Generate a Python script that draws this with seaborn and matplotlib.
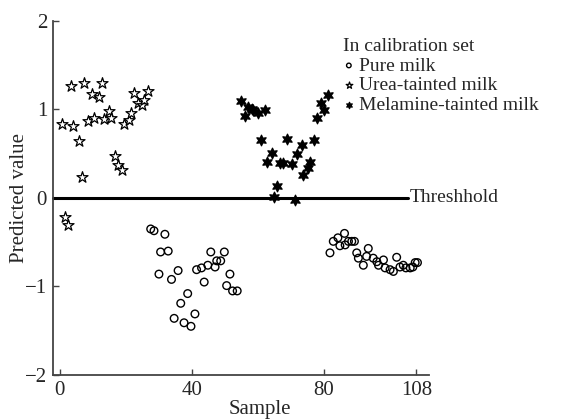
import numpy as np
import pandas as pd
import matplotlib
matplotlib.use("Agg")
import matplotlib.pyplot as plt
import seaborn as sns

# --------------------------
# Data
# --------------------------

pure_x = [27.5, 28.5, 31.8, 30.5, 32.8, 30.0, 33.8, 35.8, 38.7, 36.6, 34.6, 37.6, 39.7, 40.9,
          41.4, 42.9, 44.8, 47.0, 47.5, 48.7, 45.7, 49.8, 43.7, 51.5, 50.5, 52.3, 53.7,
          81.8, 82.8, 84.2, 86.2, 84.8, 86.4, 87.4, 88.4, 89.2, 89.9, 90.4, 91.9, 92.9, 93.4,
          94.9, 96.0, 96.5, 98.0, 98.5, 100.0, 101.0, 102.0, 103.0, 104.0, 104.8, 106.1,
          106.9, 107.6, 108.3]
pure_y = [-0.35, -0.37, -0.41, -0.61, -0.60, -0.86, -0.92, -0.82, -1.08, -1.19, -1.36, -1.41,
          -1.45, -1.31, -0.81, -0.79, -0.76, -0.78, -0.71, -0.71, -0.61, -0.61, -0.95, -0.86,
          -0.99, -1.05, -1.05,
          -0.62, -0.49, -0.45, -0.40, -0.54, -0.53, -0.49, -0.49, -0.49, -0.62, -0.68, -0.76,
          -0.66, -0.57, -0.68, -0.72, -0.76, -0.70, -0.79, -0.81, -0.83, -0.67, -0.78, -0.76,
          -0.79, -0.79, -0.78, -0.73, -0.73]

urea_x = [0.5, 4.0, 3.5, 7.4, 12.8, 9.6, 11.8, 5.8, 6.6, 8.4, 10.4, 13.4, 14.9, 15.5,
          16.7, 17.7, 18.9, 19.4, 20.9, 21.5, 22.5, 23.7, 24.8, 25.5, 26.8, 1.5, 2.5]
urea_y = [0.84, 0.81, 1.27, 1.30, 1.30, 1.18, 1.14, 0.64, 0.24, 0.87, 0.90, 0.89, 0.98, 0.90,
          0.47, 0.37, 0.32, 0.84, 0.88, 0.96, 1.19, 1.07, 1.05, 1.11, 1.21, -0.21, -0.31]

melamine_x = [54.8, 56.1, 57.1, 58.1, 58.6, 59.9, 62.1, 60.8, 68.7, 64.2, 62.8, 66.7, 67.7,
              70.2, 73.2, 71.9, 75.8, 75.2, 73.7, 77.1, 65.8, 64.8, 71.2, 77.8, 80.0, 79.0, 81.1]
melamine_y = [1.09, 0.93, 1.03, 1.00, 0.99, 0.96, 0.99, 0.66, 0.67, 0.51, 0.41, 0.39, 0.39,
              0.38, 0.60, 0.50, 0.41, 0.34, 0.26, 0.65, 0.13, 0.01, -0.02, 0.90, 0.99, 1.07, 1.16]

threshold = 0
x_ticks = [0, 40, 80, 108]
y_ticks = [-2, -1, 0, 1, 2]

# --------------------------
# Build the table
# --------------------------

df = pd.concat([
    pd.DataFrame({"Sample": pure_x, "Predicted": pure_y, "Group": "Pure milk"}),
    pd.DataFrame({"Sample": urea_x, "Predicted": urea_y, "Group": "Urea-tainted milk"}),
    pd.DataFrame({"Sample": melamine_x, "Predicted": melamine_y, "Group": "Melamine-tainted milk"}),
], ignore_index=True)

# --------------------------
# Plot
# --------------------------

sns.set_style("ticks")
plt.rcParams["font.family"] = ["Liberation Serif", "DejaVu Serif"]
plt.rcParams["axes.unicode_minus"] = True

fig = plt.figure(figsize=(5.66, 4.19), dpi=100)
ax = fig.add_axes([0.093, 0.105, 0.665, 0.845])

styles = {
    "Pure milk": dict(marker="o", s=30, facecolor="none", edgecolor="black", linewidth=1.0),
    "Urea-tainted milk": dict(marker="*", s=70, facecolor="white", edgecolor="black", linewidth=0.9),
    "Melamine-tainted milk": dict(marker=(6, 1, 0), s=60, facecolor="black", edgecolor="black", linewidth=0.9),
}
for name, kw in styles.items():
    sns.scatterplot(data=df[df["Group"] == name], x="Sample", y="Predicted",
                    ax=ax, label=name, zorder=3, **kw)

ax.axhline(threshold, xmin=0, xmax=0.944, color="black", linewidth=2.2, clip_on=False, zorder=2)
ax.text(105.8, threshold, "Threshhold", fontsize=14, va="center", ha="left")

ax.set_xlim(-2.2, 111.8)
ax.set_ylim(-2, 2)
ax.set_xticks(x_ticks)
ax.set_yticks(y_ticks)
ax.tick_params(direction="in", length=4, width=1, labelsize=15, color="#444444")
ax.tick_params(axis="x", pad=4)
ax.tick_params(axis="y", pad=4)
ax.set_xlabel("Sample", fontsize=15)
ax.set_ylabel("Predicted value", fontsize=15)
ax.xaxis.set_label_coords(0.551, -0.072)
ax.yaxis.set_label_coords(-0.064, 0.5)

sns.despine(ax=ax)
for side in ["left", "bottom"]:
    ax.spines[side].set_color("#444444")
    ax.spines[side].set_linewidth(1.3)

leg = ax.legend(title="In calibration set", loc="upper left",
                bbox_to_anchor=(343 / 566, 1 - 38 / 419), bbox_transform=fig.transFigure,
                frameon=False, fontsize=14, title_fontsize=14, markerscale=0.6,
                handlelength=0.6, handletextpad=0.2, labelspacing=0.1,
                borderpad=0, borderaxespad=0)
leg._legend_box.align = "left"

fig.savefig("out.png", dpi=100)
